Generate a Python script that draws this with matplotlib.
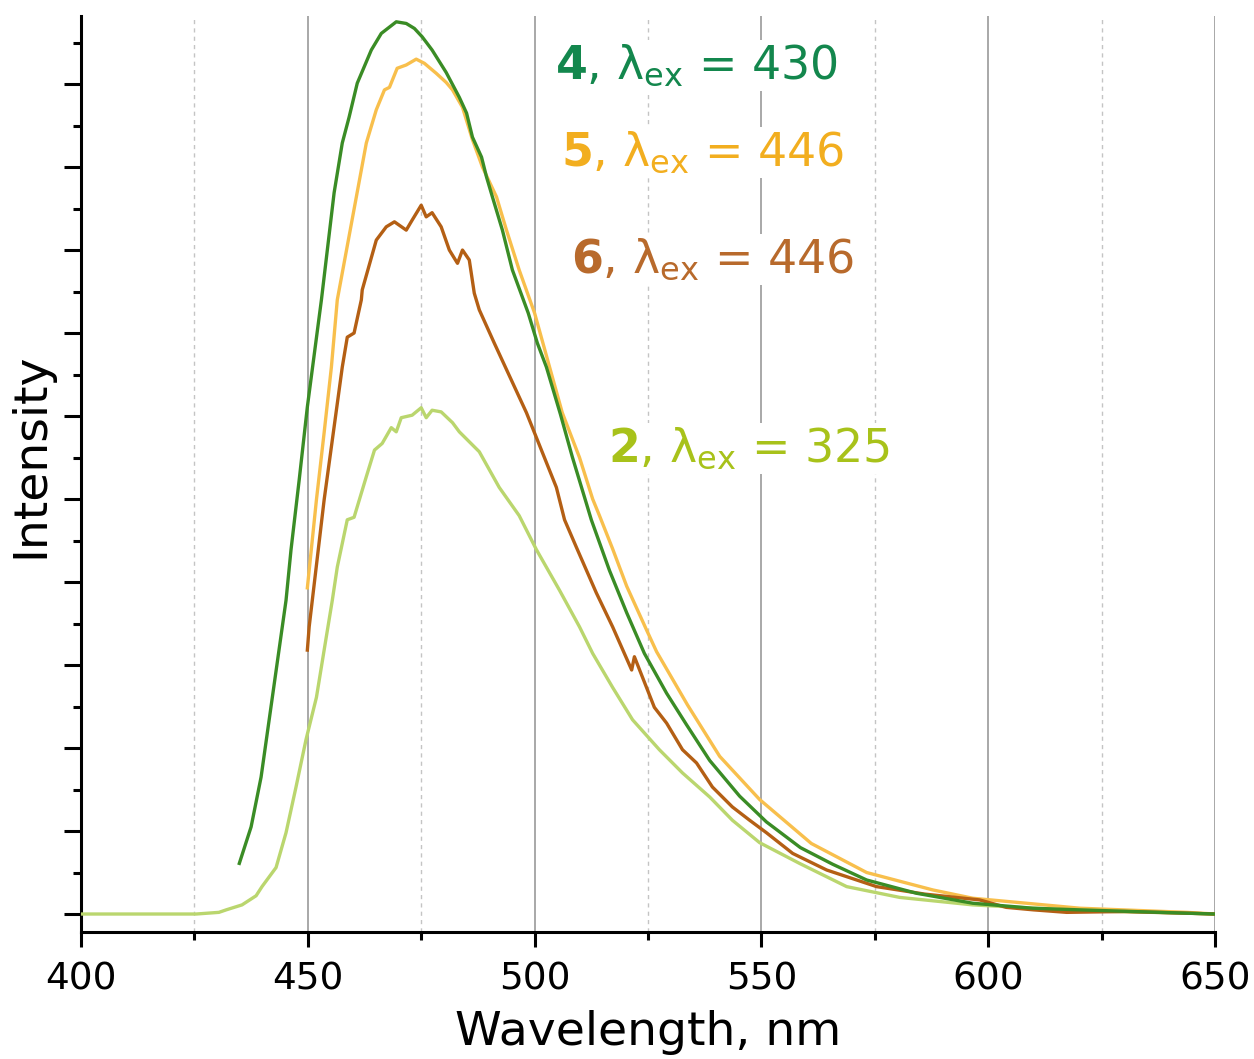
import numpy as np
import matplotlib
matplotlib.use("Agg")
import matplotlib.pyplot as plt
from matplotlib.ticker import MultipleLocator, NullFormatter

# -------------------------
# DATA
# -------------------------
wl_2 = [400, 425.4, 430.4, 432.0, 435.5, 438.6, 439.9, 443.0, 445.2, 447.4, 449.6,
        451.9, 453.6, 455.4, 456.5, 458.7, 460.2, 462.9, 464.7, 466.4, 468.4, 469.5,
        470.6, 473.0, 475.0, 476.1, 477.4, 479.4, 481.9, 483.4, 487.8, 492.2, 496.6,
        500.4, 505.5, 509.9, 512.8, 517.2, 521.6, 527.5, 532.6, 538.6, 543.6, 549.6,
        558.4, 568.8, 580.5, 596.6, 620.2, 643.8, 650]
int_2 = [0, 0, 0.02, 0.05, 0.11, 0.22, 0.33, 0.56, 0.98, 1.53, 2.10,
         2.61, 3.18, 3.78, 4.18, 4.75, 4.78, 5.27, 5.59, 5.67, 5.86, 5.81,
         5.98, 6.01, 6.10, 5.98, 6.07, 6.05, 5.92, 5.81, 5.57, 5.14, 4.80,
         4.39, 3.90, 3.46, 3.14, 2.73, 2.34, 1.98, 1.70, 1.41, 1.13, 0.86,
         0.61, 0.33, 0.20, 0.11, 0.04, 0.01, 0.0]

wl_4 = [434.9, 437.5, 439.7, 442.1, 445.2, 446.3, 448.1, 449.9, 453.0, 455.8, 457.6,
        459.1, 460.9, 464.0, 466.2, 469.5, 471.7, 473.5, 475.2, 477.4, 480.5, 483.4,
        485.0, 486.3, 488.3, 489.4, 490.7, 492.9, 495.1, 498.6, 500.6, 502.6, 505.7,
        508.3, 511.4, 512.5, 516.5, 520.3, 524.2, 529.1, 533.5, 538.6, 545.2, 551.1,
        558.6, 565.7, 573.2, 584.2, 596.6, 609.8, 620.2, 643.8, 650]
int_4 = [0.61, 1.05, 1.65, 2.58, 3.78, 4.39, 5.23, 6.11, 7.40, 8.69, 9.29,
         9.60, 10.01, 10.41, 10.61, 10.75, 10.73, 10.67, 10.57, 10.41, 10.14, 9.84,
         9.65, 9.36, 9.12, 8.88, 8.64, 8.24, 7.76, 7.24, 6.88, 6.59, 6.02,
         5.51, 4.95, 4.75, 4.14, 3.63, 3.14, 2.66, 2.28, 1.85, 1.42, 1.11,
         0.80, 0.60, 0.41, 0.25, 0.13, 0.07, 0.05, 0.01, 0.0]

wl_5 = [449.9, 451.9, 453.6, 455.2, 456.5, 460.7, 462.9, 465.1, 466.9, 468.0, 469.7,
        471.7, 473.9, 475.7, 478.3, 480.5, 481.9, 484.1, 486.3, 488.5, 491.6, 493.8,
        496.6, 500.0, 503.3, 506.1, 509.9, 512.8, 514.3, 517.2, 520.3, 524.7, 526.9,
        533.7, 540.8, 549.6, 561.0, 573.2, 587.8, 596.6, 620.2, 643.8, 650]
int_5 = [3.93, 4.99, 5.80, 6.59, 7.40, 8.64, 9.29, 9.69, 9.93, 9.96, 10.19,
         10.23, 10.30, 10.25, 10.13, 10.02, 9.93, 9.72, 9.33, 9.00, 8.64, 8.24,
         7.76, 7.24, 6.59, 6.04, 5.50, 5.00, 4.80, 4.40, 3.95, 3.42, 3.16,
         2.52, 1.90, 1.38, 0.85, 0.50, 0.29, 0.19, 0.07, 0.02, 0.0]

wl_6 = [449.9, 450.3, 453.6, 456.3, 457.6, 458.7, 460.2, 461.8, 462.0, 465.1, 467.3,
        469.1, 471.7, 473.0, 475.0, 476.1, 477.4, 479.4, 481.2, 483.0, 484.1, 485.6,
        486.7, 487.8, 491.1, 498.2, 501.5, 504.8, 506.6, 509.2, 513.6, 517.2, 521.4,
        522.0, 526.4, 529.1, 532.6, 535.7, 539.2, 543.6, 547.4, 551.1, 556.9, 564.4,
        575.4, 586.0, 598.1, 604.0, 610.0, 617.3, 630.0, 643.8, 650]
int_6 = [3.18, 3.46, 4.99, 6.07, 6.59, 6.95, 7.00, 7.40, 7.52, 8.12, 8.28,
         8.34, 8.24, 8.36, 8.54, 8.40, 8.45, 8.28, 8.00, 7.84, 8.00, 7.88,
         7.48, 7.28, 6.88, 6.04, 5.59, 5.14, 4.75, 4.42, 3.87, 3.46, 2.94,
         3.10, 2.49, 2.30, 1.98, 1.82, 1.53, 1.29, 1.13, 0.98, 0.73, 0.53,
         0.33, 0.24, 0.17, 0.08, 0.05, 0.02, 0.03, 0.01, 0.0]

series = [
    ("2", "325", wl_2, int_2, "#bad66e", "#a8c21a", (516.1, 5.45)),
    ("5", "446", wl_5, int_5, "#f8bf4c", "#f2ae1f", (505.9, 9.02)),
    ("6", "446", wl_6, int_6, "#b45f14", "#b86a2c", (508.1, 7.73)),
    ("4", "430", wl_4, int_4, "#3a8c25", "#13874d", (504.4, 10.07)),
]

# -------------------------
# FIGURE
# -------------------------
plt.rcParams["font.family"] = "DejaVu Sans"
plt.rcParams["mathtext.fontset"] = "dejavusans"
fig = plt.figure(figsize=(12.54, 10.59), dpi=100)
ax = fig.add_axes([0.0646, 0.1199, 0.9043, 0.865])

for num, lex, wl, inten, lc, tc, pos in series:
    ax.plot(wl, inten, color=lc, lw=2.4, zorder=3)
    ax.text(pos[0], pos[1],
            r"$\mathbf{" + num + r"}$, $\mathrm{\lambda}_{\mathrm{ex}}$ = " + lex,
            color=tc, fontsize=33, ha="left", va="baseline", zorder=4,
            bbox=dict(facecolor="white", edgecolor="none", pad=2))

ax.set_xlim(400, 650)
ax.set_ylim(-0.217, 10.82)

ax.xaxis.set_major_locator(MultipleLocator(50))
ax.xaxis.set_minor_locator(MultipleLocator(25))
ax.yaxis.set_major_locator(MultipleLocator(1))
ax.yaxis.set_minor_locator(MultipleLocator(0.5))
ax.yaxis.set_major_formatter(NullFormatter())

ax.grid(which="major", axis="x", color="#9a9a9a", lw=1.2, zorder=0)
ax.grid(which="minor", axis="x", color="#c4c4c4", lw=1.0, ls=(0, (3, 3)), zorder=0)

for side in ["top", "right"]:
    ax.spines[side].set_visible(False)
for side in ["left", "bottom"]:
    ax.spines[side].set_linewidth(2.2)

ax.tick_params(axis="x", which="major", length=11, width=2.2, labelsize=27, pad=10)
ax.tick_params(axis="x", which="minor", length=6, width=2.2)
ax.tick_params(axis="y", which="major", length=12, width=2.2)
ax.tick_params(axis="y", which="minor", length=6, width=2.2)

ax.set_xlabel("Wavelength, nm", fontsize=34, labelpad=9)
ax.set_ylabel("Intensity", fontsize=34)
ax.yaxis.set_label_coords(-0.024, 0.52)

fig.savefig("out.png", dpi=100)
